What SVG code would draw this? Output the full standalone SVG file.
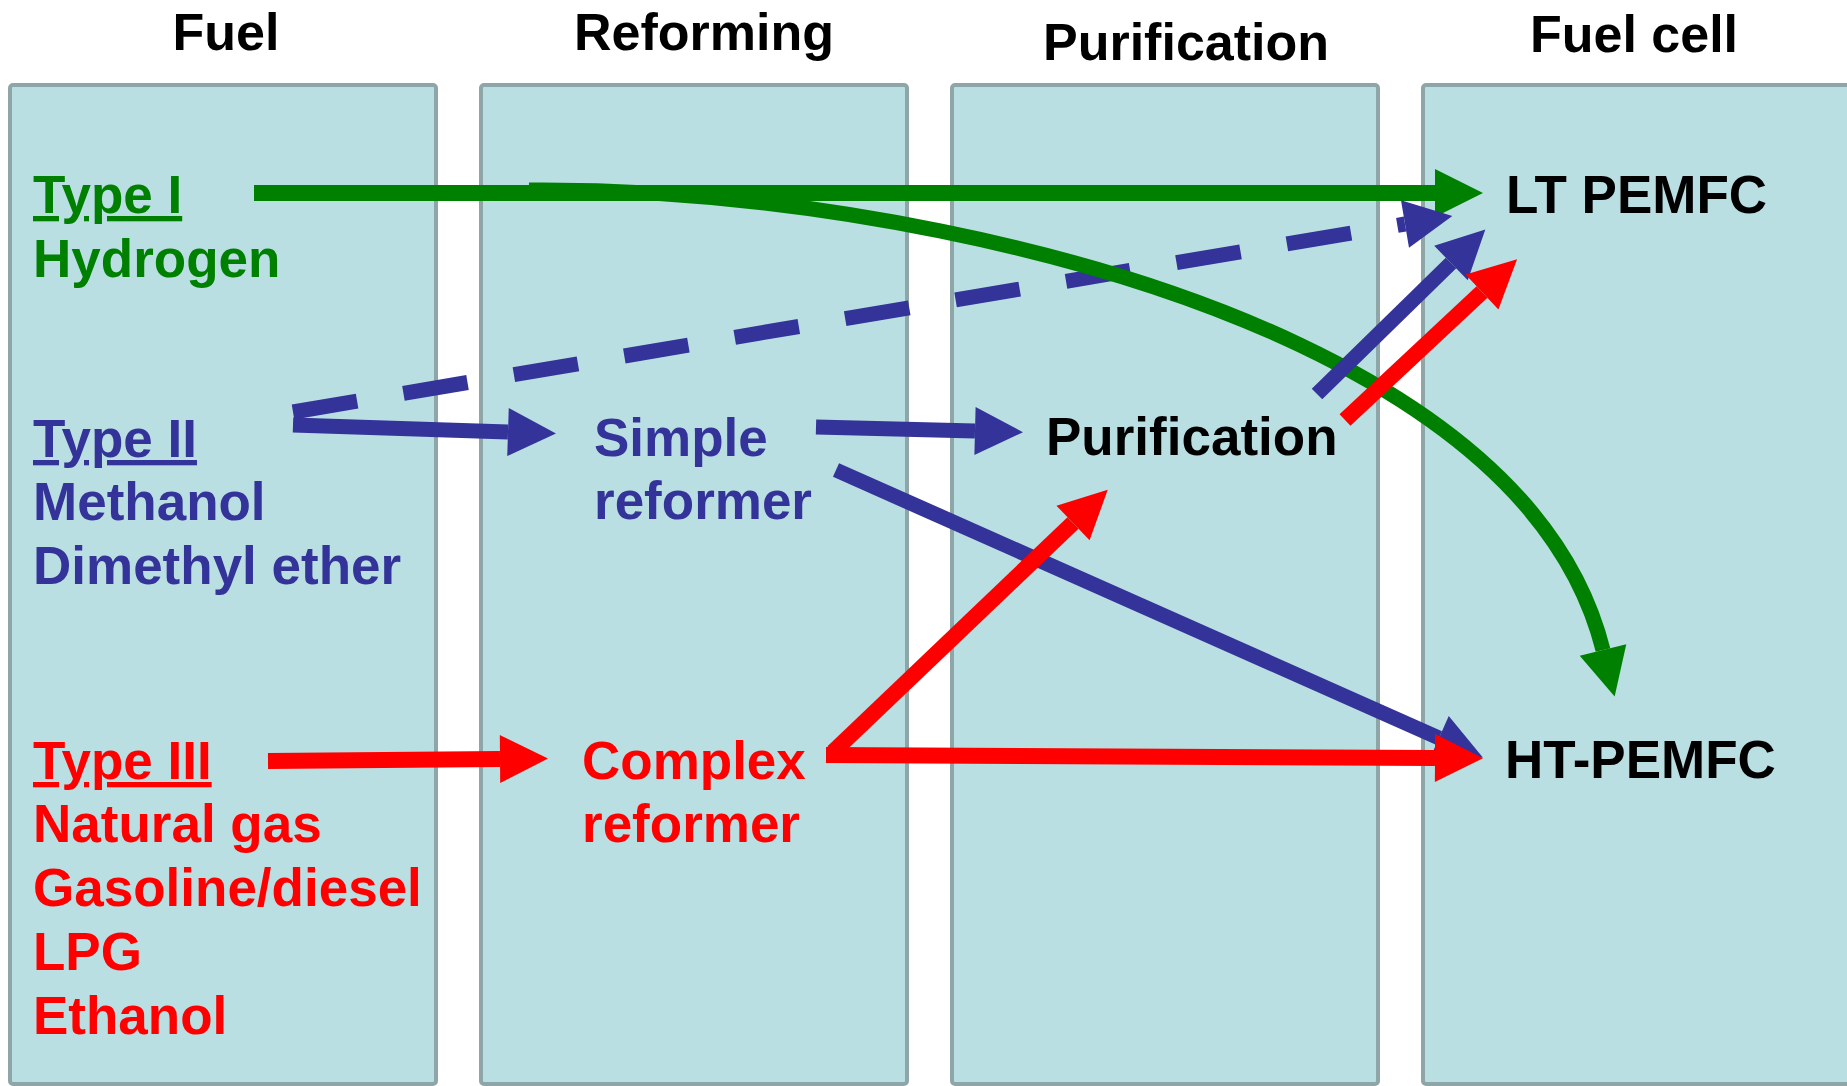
<svg xmlns="http://www.w3.org/2000/svg" width="1847" height="1086" viewBox="0 0 1847 1086">
<style>
  .panel { fill: #BADFE3; stroke: #8EA6A8; stroke-width: 4; }
  text { font-family: "Liberation Sans", Arial, sans-serif; font-weight: bold; font-size: 53px; }
  .head { fill: #000; text-anchor: middle; font-size: 52px; }
  .blk { fill: #000; }
  .g { fill: #008000; }
  .b { fill: #333399; }
  .r { fill: #FF0000; }
  .ul { text-decoration: underline; }
  .cg { fill: none; stroke: #008000; stroke-width: 16; }
  .cb { fill: none; stroke: #333399; stroke-width: 15; }
  .cr { fill: none; stroke: #FF0000; stroke-width: 16; }
  .dash { stroke-dasharray: 65 47; }
</style>
<defs>
  <marker id="ag" markerUnits="userSpaceOnUse" markerWidth="50" markerHeight="50" refX="0" refY="0" orient="auto" overflow="visible">
    <path d="M0,-24 L48,0 L0,24 z" fill="#008000"/>
  </marker>
  <marker id="ab" markerUnits="userSpaceOnUse" markerWidth="50" markerHeight="50" refX="0" refY="0" orient="auto" overflow="visible">
    <path d="M0,-24 L48,0 L0,24 z" fill="#333399"/>
  </marker>
  <marker id="ar" markerUnits="userSpaceOnUse" markerWidth="50" markerHeight="50" refX="0" refY="0" orient="auto" overflow="visible">
    <path d="M0,-24 L48,0 L0,24 z" fill="#FF0000"/>
  </marker>
</defs>
<rect x="0" y="0" width="1847" height="1086" fill="#FFFFFF"/>

<g id="col-fuel">
  <rect class="panel" x="10" y="85" width="426" height="999" rx="3"/>
  <text class="head" x="226" y="50">Fuel</text>
</g>
<g id="col-reforming">
  <rect class="panel" x="481" y="85" width="426" height="999" rx="3"/>
  <text class="head" x="704" y="50">Reforming</text>
</g>
<g id="col-purification">
  <rect class="panel" x="952" y="85" width="426" height="999" rx="3"/>
  <text class="head" x="1186" y="60">Purification</text>
</g>
<g id="col-fuelcell">
  <rect class="panel" x="1423" y="85" width="440" height="999" rx="3"/>
  <text class="head" x="1634" y="52">Fuel cell</text>
</g>

<g id="connectors">
  <path class="cg" d="M254,193 H1435" marker-end="url(#ag)"/>
  <path class="cb dash" d="M293,412 L1405,224" marker-end="url(#ab)"/>
  <path class="cg" style="stroke-width:15" d="M529,190 C800,188 1100,250 1300,345 S1578,550 1603,650" marker-end="url(#ag)"/>
  <path class="cb" d="M293,425 L508,432" marker-end="url(#ab)"/>
  <path class="cb" d="M816,427 L975,431" marker-end="url(#ab)"/>
  <path class="cb" d="M836,470 L1439,738" marker-end="url(#ab)"/>
  <path class="cb" d="M1317,394 L1451,263" marker-end="url(#ab)"/>
  <path class="cr" d="M268,761 L500,759" marker-end="url(#ar)"/>
  <path class="cr" d="M833,752 L1073,523" marker-end="url(#ar)"/>
  <path class="cr" d="M826,755 L1435,758" marker-end="url(#ar)"/>
  <path class="cr" d="M1345,420 L1482,292" marker-end="url(#ar)"/>
</g>

<g id="type1">
  <text class="g" x="33" y="213"><tspan class="ul">Type I</tspan></text>
  <text class="g" x="33" y="277">Hydrogen</text>
</g>
<g id="type2">
  <text class="b" x="33" y="457"><tspan class="ul">Type II</tspan></text>
  <text class="b" x="33" y="520">Methanol</text>
  <text class="b" x="33" y="584">Dimethyl ether</text>
</g>
<g id="type3">
  <text class="r" x="33" y="779"><tspan class="ul">Type III</tspan></text>
  <text class="r" x="33" y="842">Natural gas</text>
  <text class="r" x="33" y="906">Gasoline/diesel</text>
  <text class="r" x="33" y="970">LPG</text>
  <text class="r" x="33" y="1034">Ethanol</text>
</g>
<g id="simple-reformer">
  <text class="b" x="594" y="456">Simple</text>
  <text class="b" x="594" y="519">reformer</text>
</g>
<g id="complex-reformer">
  <text class="r" x="582" y="779">Complex</text>
  <text class="r" x="582" y="842">reformer</text>
</g>
<g id="purification">
  <text class="blk" x="1046" y="455">Purification</text>
</g>
<g id="lt-pemfc">
  <text class="blk" x="1506" y="213">LT PEMFC</text>
</g>
<g id="ht-pemfc">
  <text class="blk" x="1505" y="778">HT-PEMFC</text>
</g>
</svg>
